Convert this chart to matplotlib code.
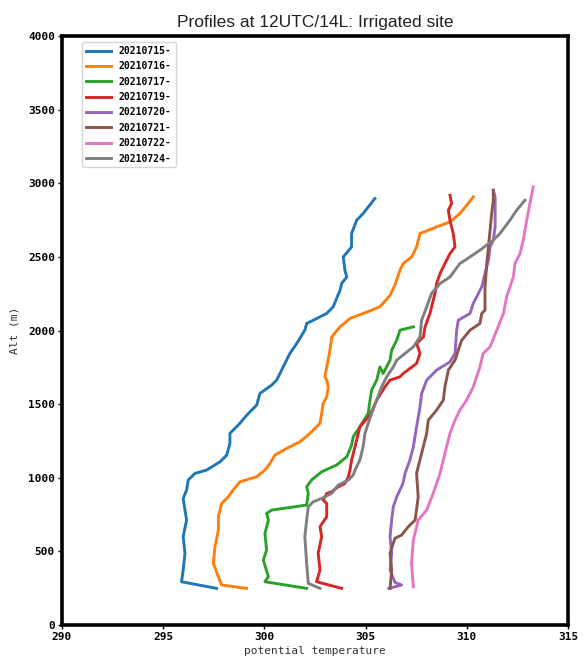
import matplotlib
matplotlib.use("Agg")
import matplotlib.pyplot as plt
import numpy as np

dates = ['20210715-', '20210716-', '20210717-', '20210719-',
         '20210720-', '20210721-', '20210722-', '20210724-']

# potential temperature (K) and altitude (m)
th_0715 = [297.64, 295.91, 295.99, 296.08, 295.99, 296.16, 296.08, 295.99, 296.16, 296.24,
           296.57, 297.15, 297.81, 298.14, 298.30, 298.30, 298.79, 299.13, 299.62, 299.78,
           300.36, 300.61, 301.26, 301.60, 302.00, 302.09, 302.42, 303.08, 303.40, 303.74,
           303.82, 304.07, 303.98, 303.90, 304.31, 304.31, 304.56, 304.88, 305.46]
z_0715 = [249, 294, 374, 487, 600, 713, 781, 860, 917, 985,
          1030, 1053, 1109, 1154, 1234, 1302, 1370, 1426, 1494, 1573,
          1630, 1664, 1845, 1913, 2003, 2049, 2071, 2117, 2162, 2275,
          2320, 2365, 2411, 2501, 2569, 2660, 2750, 2796, 2898]

th_0716 = [299.12, 297.89, 297.73, 297.48, 297.56, 297.73, 297.73, 297.89, 298.22, 298.46,
           298.79, 299.62, 300.03, 300.28, 300.52, 301.10, 301.76, 302.25, 302.75, 302.83,
           302.91, 303.08, 303.16, 303.08, 302.99, 303.24, 303.33, 303.74, 304.23, 305.30,
           305.71, 306.21, 306.45, 306.70, 306.86, 307.28, 307.52, 307.69, 308.51, 309.17,
           309.66, 310.07, 310.32]
z_0716 = [249, 272, 328, 419, 532, 645, 736, 826, 871, 917,
          973, 1007, 1053, 1098, 1154, 1200, 1245, 1302, 1370, 1438,
          1506, 1551, 1618, 1664, 1686, 1868, 1958, 2026, 2083, 2139,
          2162, 2240, 2310, 2411, 2456, 2501, 2569, 2660, 2705, 2739,
          2796, 2864, 2909]

th_0717 = [302.09, 300.03, 300.20, 299.95, 300.11, 300.03, 300.20, 300.11, 300.36, 302.09,
           302.17, 302.09, 302.33, 302.83, 303.57, 304.07, 304.31, 304.39, 304.72, 305.13,
           305.22, 305.30, 305.55, 305.71, 305.87, 306.21, 306.29, 306.54, 306.70, 307.03,
           307.36]
z_0717 = [249, 294, 328, 441, 509, 623, 713, 758, 781, 815,
          894, 939, 985, 1041, 1087, 1143, 1222, 1279, 1347, 1438,
          1528, 1596, 1664, 1754, 1709, 1800, 1868, 1935, 2003, 2015,
          2026]

th_0719 = [303.82, 302.58, 302.75, 302.66, 302.83, 302.75, 303.08, 303.08, 302.91, 303.08,
           303.32, 303.65, 303.98, 304.15, 304.23, 304.31, 304.48, 304.64, 304.72, 305.22,
           305.55, 305.96, 306.21, 306.70, 306.86, 307.52, 307.69, 307.52, 307.86, 307.94,
           308.18, 308.43, 308.51, 308.68, 308.92, 309.17, 309.42, 309.33, 309.17, 309.09,
           309.25, 309.17]
z_0719 = [249, 294, 374, 487, 600, 668, 736, 826, 849, 894,
          905, 939, 962, 1007, 1053, 1121, 1211, 1302, 1347, 1426,
          1528, 1618, 1664, 1686, 1709, 1777, 1845, 1913, 1958, 2026,
          2117, 2253, 2320, 2388, 2456, 2524, 2569, 2660, 2750, 2818,
          2864, 2920]

th_0720 = [306.15, 306.78, 306.45, 306.21, 306.29, 306.21, 306.29, 306.37, 306.54, 306.85,
           306.95, 307.19, 307.36, 307.52, 307.69, 307.77, 308.02, 308.51, 309.17, 309.42,
           309.50, 309.58, 310.16, 310.32, 310.49, 310.74, 310.90, 311.07, 311.15, 311.31,
           311.40, 311.40, 311.40, 311.31]
z_0720 = [249, 272, 290, 374, 487, 600, 713, 803, 871, 962,
          1030, 1121, 1211, 1347, 1483, 1573, 1664, 1732, 1788, 1845,
          2003, 2071, 2117, 2185, 2230, 2298, 2388, 2479, 2569, 2615,
          2705, 2818, 2909, 2954]

th_0721 = [306.21, 306.29, 306.21, 306.37, 306.45, 306.78, 307.11, 307.45, 307.60, 307.52,
           307.60, 307.85, 308.02, 308.10, 308.51, 308.84, 308.92, 309.09, 309.42, 309.58,
           309.75, 310.16, 310.65, 310.74, 310.90, 310.90, 310.99, 311.07, 311.15, 311.23,
           311.31, 311.31]
z_0721 = [249, 374, 487, 555, 589, 611, 668, 713, 871, 1030,
          1075, 1211, 1302, 1392, 1460, 1528, 1618, 1732, 1800, 1868,
          1935, 2003, 2049, 2117, 2139, 2298, 2456, 2569, 2682, 2796,
          2886, 2954]

th_0722 = [307.36, 307.27, 307.36, 307.60, 308.02, 308.34, 308.68, 308.92, 309.17, 309.42,
           309.66, 309.99, 310.32, 310.65, 310.81, 311.15, 311.48, 311.81, 311.97, 312.30,
           312.38, 312.63, 312.79, 312.96, 313.12, 313.28]
z_0722 = [260, 419, 577, 713, 781, 894, 1030, 1166, 1302, 1392,
          1460, 1528, 1618, 1754, 1845, 1890, 2003, 2117, 2230, 2365,
          2456, 2524, 2615, 2750, 2864, 2977]

th_0724 = [302.75, 302.17, 302.09, 302.00, 302.09, 302.17, 302.41, 302.83, 303.32, 303.65,
           304.15, 304.39, 304.48, 304.72, 304.88, 304.97, 305.13, 305.30, 305.55, 305.79,
           306.04, 306.37, 306.54, 306.95, 307.36, 307.69, 307.77, 308.02, 308.26, 308.68,
           309.17, 309.66, 310.16, 310.65, 311.31, 311.64, 312.13, 312.46, 312.87]
z_0724 = [249, 283, 419, 600, 713, 803, 837, 860, 894, 951,
          985, 1019, 1053, 1121, 1211, 1302, 1370, 1438, 1528, 1618,
          1686, 1754, 1800, 1845, 1890, 1958, 2071, 2162, 2253, 2320,
          2365, 2456, 2501, 2547, 2615, 2660, 2750, 2818, 2886]

profiles = [(th_0715, z_0715), (th_0716, z_0716), (th_0717, z_0717), (th_0719, z_0719),
            (th_0720, z_0720), (th_0721, z_0721), (th_0722, z_0722), (th_0724, z_0724)]

fig = plt.figure(figsize=(5.84, 6.6), dpi=100)
ax = fig.add_axes([0.106, 0.053, 0.8666, 0.892])

for (th, z), d in zip(profiles, dates):
    ax.plot(th, z, lw=2.1, label=d)

ax.set_xlim(290, 315)
ax.set_ylim(0, 4000)
ax.set_xticks(np.arange(290, 316, 5))
ax.set_yticks(np.arange(0, 4001, 500))
for lab in ax.get_xticklabels() + ax.get_yticklabels():
    lab.set_fontfamily('DejaVu Sans Mono')
    lab.set_fontweight('bold')
    lab.set_fontsize(8)
ax.tick_params(length=3, width=1, pad=2)
for s in ax.spines.values():
    s.set_linewidth(2.6)
    s.set_color('black')

ax.set_xlabel('potential temperature', fontfamily='DejaVu Sans Mono', fontsize=8, color='#333333', labelpad=3)
ax.set_ylabel('Alt (m)', fontfamily='DejaVu Sans Mono', fontsize=8, color='#333333', labelpad=6)
ax.set_title('Profiles at 12UTC/14L: Irrigated site', fontfamily='Liberation Sans', fontsize=12.5, color='#222222', pad=7)

leg = ax.legend(loc='upper left', bbox_to_anchor=(0.0395, 0.99), borderaxespad=0,
                prop={'family': 'DejaVu Sans Mono', 'weight': 'bold', 'size': 7},
                handlelength=2.6, labelspacing=0.55)

plt.savefig('out.png')
plt.close()
